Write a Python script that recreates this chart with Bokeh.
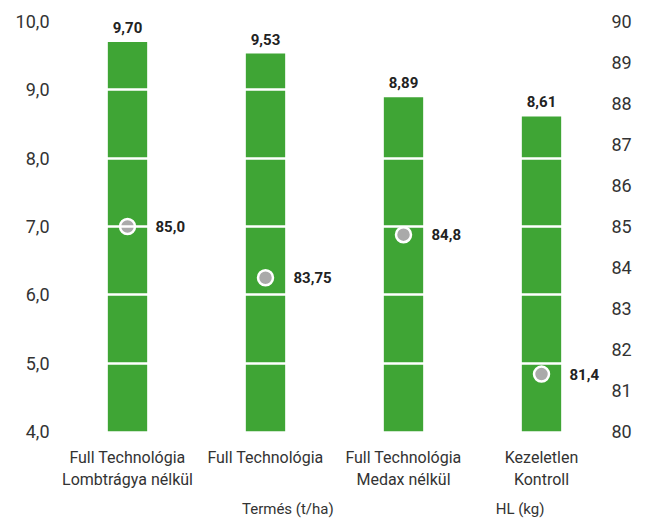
from bokeh.plotting import figure
from bokeh.layouts import column
from bokeh.models import (Range1d, LinearAxis, FixedTicker, Legend, LegendItem, ColumnDataSource)
from bokeh.core.properties import value
from bokeh.embed import file_html
from bokeh.resources import INLINE

categories = ["Full Technológia\nLombtrágya nélkül", "Full Technológia",
              "Full Technológia\nMedax nélkül", "Kezeletlen\nKontroll"]
termes = [9.70, 9.53, 8.89, 8.61]
hl = [85.0, 83.75, 84.8, 81.4]
left_ticks = [4, 5, 6, 7, 8, 9, 10]
right_ticks = [80, 81, 82, 83, 84, 85, 86, 87, 88, 89, 90]
series_names = ["Termés (t/ha)", "HL (kg)"]

FONT = "Roboto"
TXT = "#333333"
GREEN = "#3fa535"
GRAY = "#aaaaaa"

src = ColumnDataSource(dict(
    cat=categories,
    termes=termes,
    termes_lbl=[f"{v:.2f}".replace(".", ",") for v in termes],
    hl=hl,
    hl_lbl=[str(v).replace(".", ",") for v in hl],
))

p = figure(x_range=categories, y_range=Range1d(4, 10), width=640, height=492,
           output_backend="svg", toolbar_location=None,
           min_border_left=58, min_border_right=30, min_border_top=21, min_border_bottom=56)
p.extra_y_ranges = {"hl": Range1d(80, 90)}
p.outline_line_color = None

bars = p.vbar(x="cat", top="termes", bottom=4, width=0.285, source=src,
              fill_color=GREEN, line_color=None)
pts = p.scatter(x="cat", y="hl", y_range_name="hl", source=src, size=15,
                fill_color=GRAY, line_color="white", line_width=2.5)

t1 = p.text(x="cat", y="termes", text="termes_lbl", source=src, y_offset=-9,
            text_align="center", text_baseline="bottom", text_font=value(FONT),
            text_font_size="15px", text_font_style="bold", text_color="#222222")
t2 = p.text(x="cat", y="hl", text="hl_lbl", source=src, y_range_name="hl", x_offset=28,
            text_align="left", text_baseline="middle", text_font=value(FONT),
            text_font_size="15px", text_font_style="bold", text_color="#222222")
t1.level = "overlay"
t2.level = "overlay"

p.xgrid.grid_line_color = None
p.ygrid.ticker = FixedTicker(ticks=left_ticks)
p.ygrid.grid_line_color = "white"
p.ygrid.grid_line_width = 2.5
p.ygrid.level = "annotation"

ax = p.yaxis[0]
ax.ticker = FixedTicker(ticks=left_ticks)
ax.major_label_overrides = {t: f"{t:.1f}".replace(".", ",") for t in left_ticks}

rax = LinearAxis(y_range_name="hl", ticker=FixedTicker(ticks=right_ticks))
p.add_layout(rax, "right")

for a in (ax, rax, p.xaxis[0]):
    a.axis_line_color = None
    a.major_tick_line_color = None
    a.minor_tick_line_color = None
    a.major_tick_out = 0
    a.major_tick_in = 0
    a.minor_tick_out = 0
    a.major_label_text_font = FONT
    a.major_label_text_color = TXT

ax.major_label_text_font_size = "18px"
ax.major_label_standoff = 9
rax.major_label_text_font_size = "18px"
rax.major_label_standoff = 1

xa = p.xaxis[0]
xa.major_label_text_font_size = "16px"
xa.major_label_standoff = 16

# legend strip below the chart
lg = figure(width=640, height=30, x_range=Range1d(0, 1), y_range=Range1d(0, 1),
            output_backend="svg", toolbar_location=None,
            x_axis_location=None, y_axis_location=None,
            min_border_left=0, min_border_right=0, min_border_top=0, min_border_bottom=0)
lg.outline_line_color = None
lg.grid.grid_line_color = None
lbar = lg.vbar(x=[], top=[], width=0.1, fill_color=GREEN, line_color=None)
lpt = lg.scatter(x=[], y=[], size=15, fill_color=GRAY, line_color=None)

legend = Legend(items=[LegendItem(label=series_names[0], renderers=[lbar]),
                       LegendItem(label=series_names[1], renderers=[lpt])],
                orientation="horizontal", location=(157, 4),
                border_line_color=None, background_fill_alpha=0,
                label_text_font=FONT, label_text_font_size="15px",
                label_text_color=TXT, spacing=135, glyph_width=15, glyph_height=15,
                padding=0, margin=0, label_standoff=12, label_height=15)
lg.add_layout(legend, "center")

layout = column(p, lg, spacing=0)
open("out.html", "w").write(file_html(layout, INLINE))
